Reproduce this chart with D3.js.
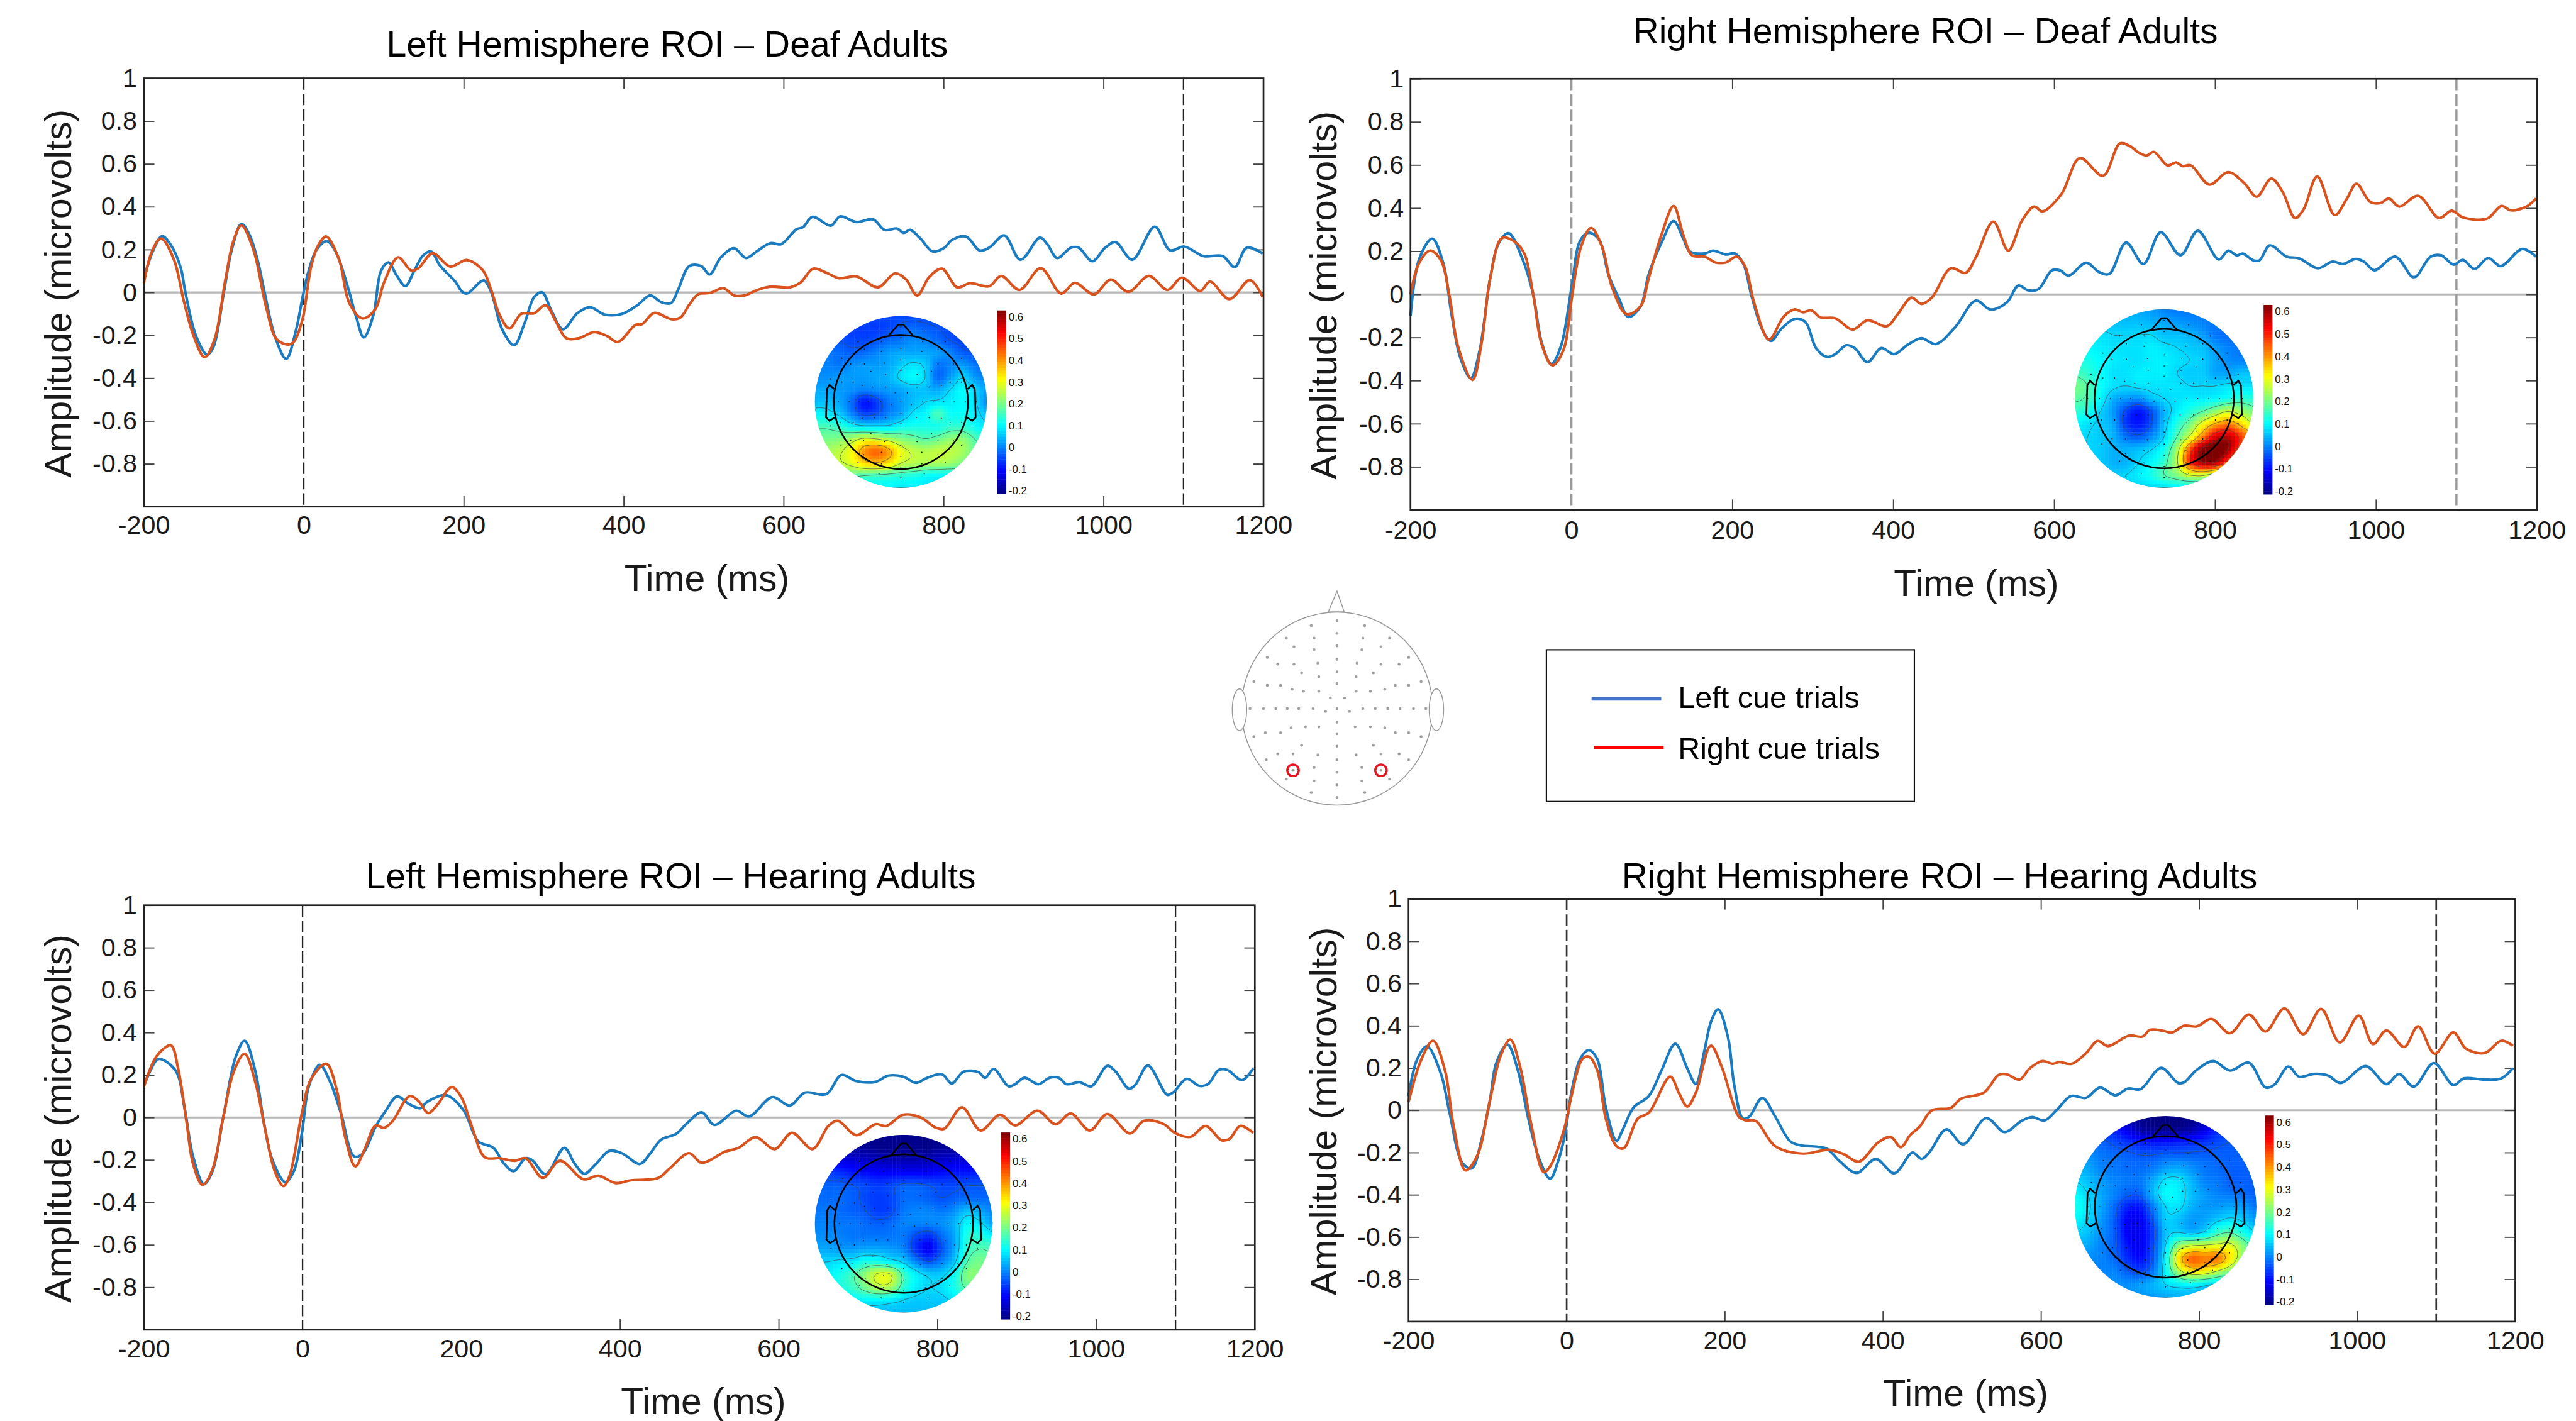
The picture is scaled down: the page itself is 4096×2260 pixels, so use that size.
<!DOCTYPE html>
<html>
<head>
<meta charset="utf-8">
<script src="https://cdn.jsdelivr.net/npm/d3@7"></script>
<style>
  html, body { margin: 0; padding: 0; background: #fff; }
  svg { display: block; }
  text { font-family: "Liberation Sans", Arial, sans-serif; }
</style>
</head>
<body>
<div id="chart"></div>
<script>
// waktu (ms), amplitudo (microvolts)
const deafLeftRoiLeftCue = [[-200,.06],[-189,.19],[-177,.263],[-166,.22],[-154,.117],[-148,0],[-135,-.2],[-121,-.29],[-113,-.255],[-100,0],[-90,.2],[-78,.32],[-68,.27],[-58,.155],[-49,0],[-36.5,-.2],[-22,-.31],[-10,-.18],[-1,-.013],[6,.1],[16,.2],[29,.24],[40,.19],[49,.1],[57,0],[66,-.12],[75,-.21],[87,-.106],[96.5,.1],[106,.14],[116,.08],[127,.03],[138,.1],[148.5,.17],[159,.192],[170,.127],[189,.052],[199,0],[205,-.004],[225,.056],[234,.005],[248,-.172],[263,-.246],[276,-.144],[288,-.022],[298,0],[310,-.088],[324,-.172],[342,-.097],[358,-.069],[376,-.103],[398,-.1],[417,-.06],[433,-.014],[447,-.045],[459,-.05],[468,.012],[482,.123],[497,.123],[507.5,.084],[522,.166],[538,.206],[553,.161],[567.5,.195],[583.5,.23],[597,.226],[616,.295],[624,.304],[636,.353],[659,.312],[670.5,.355],[691,.329],[712,.341],[726,.292],[742,.298],[750,.278],[758,.292],[771,.252],[786,.192],[801,.209],[810,.244],[828,.261],[845,.196],[857,.209],[876,.266],[896,.153],[920.5,.256],[929.5,.226],[942,.161],[959,.209],[969,.209],[986,.146],[1002,.209],[1015,.235],[1036,.153],[1064,.307],[1083,.197],[1101,.214],[1125,.17],[1149,.17],[1164,.118],[1179,.209],[1199,.182]];
const deafLeftRoiRightCue = [[-200,.043],[-190,.19],[-178.5,.252],[-162.5,.155],[-150,-.04],[-138,-.2],[-124,-.302],[-111.5,-.218],[-98,.06],[-88,.24],[-78,.313],[-63,.2],[-47,-.069],[-34,-.218],[-19,-.243],[-12,-.228],[-1.6,-.125],[9,.118],[18,.22],[28,.261],[44,.155],[57,-.05],[73.5,-.121],[89.5,-.078],[100,.043],[118,.164],[134,.103],[143,.112],[161,.183],[183,.121],[204,.151],[224,.103],[234,.015],[245,-.106],[257,-.168],[272,-.1],[288,-.097],[302.5,-.06],[315,-.134],[328,-.213],[344,-.213],[363,-.185],[379,-.203],[392.5,-.231],[415,-.151],[423,-.148],[438,-.096],[460,-.125],[471,-.117],[482,-.057],[493,-.009],[508.5,-.002],[524.5,.02],[538,-.014],[551,-.014],[567.5,.012],[583.5,.027],[608,.024],[621,.046],[637,.111],[653,.093],[669,.067],[691,.075],[718,.024],[739,.089],[752.5,.063],[767,-.014],[782,.072],[798,.111],[817,.024],[833,.043],[857,.029],[872,.077],[895,.012],[921.4,.113],[947,-.005],[964,.045],[988,-.009],[1009,.06],[1031,.003],[1056.6,.077],[1080,.012],[1098,.069],[1121,.007],[1133,.051],[1157.4,-.031],[1183,.058],[1199,-.022]];
const deafRightRoiLeftCue = [[-200,-.1],[-189,.166],[-173,.258],[-159.5,.148],[-149,-.092],[-138,-.295],[-125,-.388],[-114,-.259],[-101,.074],[-90,.24],[-78,.284],[-61,.166],[-47.5,0],[-37,-.222],[-25,-.323],[-13,-.24],[.4,.037],[11,.25],[22,.286],[35,.25],[46,.092],[59,-.018],[71,-.105],[86,-.055],[96,.092],[112,.24],[127,.34],[139,.259],[147,.2],[166,.19],[176,.203],[192,.185],[203,.19],[214,.139],[224,-.009],[237.6,-.166],[248,-.216],[261.6,-.157],[277.6,-.114],[291,-.129],[304,-.249],[317.6,-.29],[328,-.277],[341.6,-.236],[352,-.249],[368,-.314],[385,-.249],[401,-.277],[419,-.231],[435,-.203],[453,-.23],[477,-.152],[502.6,-.029],[521,-.07],[541.5,-.036],[555.5,.041],[567.5,.019],[580.4,.024],[597,.111],[607.4,.111],[618,.087],[640,.147],[655.6,.104],[668.6,.095],[689.4,.24],[711,.141],[732.4,.288],[757,.182],[778.6,.295],[804.5,.162],[816.4,.203],[827,.181],[834.6,.189],[847.6,.158],[855.3,.158],[868,.227],[889,.175],[904.6,.167],[928,.121],[946,.152],[959,.141],[974.6,.164],[985,.152],[998,.112],[1024,.175],[1044.7,.082],[1050,.083],[1068,.175],[1081,.181],[1096.5,.138],[1108,.16],[1122.5,.118],[1139.6,.169],[1155,.131],[1182,.211],[1199,.175]];
const deafRightRoiRightCue = [[-200,0],[-189,.148],[-175.5,.203],[-162,.157],[-151.5,-.009],[-141,-.24],[-123,-.397],[-111.5,-.222],[-101,.074],[-86,.262],[-69,.24],[-58,.185],[-47.5,0],[-37,-.231],[-23.6,-.329],[-10,-.259],[.4,-.018],[12,.222],[24.4,.308],[38,.222],[51,.028],[68.7,-.092],[86,-.055],[96,.074],[112,.277],[127,.41],[139,.277],[150,.181],[166,.175],[179,.148],[192,.148],[205.6,.175],[216,.129],[227,-.037],[245.6,-.209],[264,-.102],[277.6,-.07],[288,-.083],[298,-.074],[309.6,-.107],[328,-.111],[349.6,-.163],[368,-.12],[392,-.148],[405.5,-.092],[422.6,-.015],[435,-.044],[448,-.015],[471.5,.121],[490,.1],[502.6,.172],[524.4,.337],[543,.203],[560,.342],[575,.407],[585.6,.385],[609,.465],[632,.632],[660.8,.55],[681.6,.7],[694.5,.687],[705,.658],[715,.644],[724,.661],[741,.598],[751.6,.612],[759.4,.595],[770,.598],[793,.509],[816.4,.567],[837,.513],[851.7,.453],[870,.537],[884,.475],[899.4,.354],[910,.394],[927,.547],[948.7,.368],[964,.445],[975.7,.513],[993,.428],[1006,.424],[1016,.445],[1029,.407],[1052.5,.457],[1078.4,.354],[1094,.388],[1108.5,.356],[1138,.351],[1156,.41],[1167.6,.39],[1187,.407],[1199,.445]];
const hearingLeftRoiLeftCue = [[-200,.148],[-184,.27],[-178.4,.275],[-159.5,.218],[-148.6,.044],[-138,-.183],[-124.3,-.314],[-113.5,-.253],[-100,0],[-84,.288],[-73,.361],[-59.5,.218],[-48.6,-.026],[-38,-.2],[-21.6,-.305],[-11,-.253],[-1,-.078],[8,.148],[21.6,.248],[35,.166],[48.6,.017],[65,-.183],[75.7,-.171],[92,-.044],[105.4,.035],[119,.099],[135,.061],[148.6,.044],[156.8,.073],[181,.105],[202.7,.035],[221.6,-.113],[240.5,-.143],[254,-.218],[266,-.253],[281,-.192],[289,-.2],[306.5,-.267],[329.7,-.143],[343,-.218],[355,-.265],[370,-.218],[386.5,-.157],[402.7,-.169],[425,-.219],[438.3,-.168],[452,-.104],[470.8,-.077],[484,-.029],[503,.024],[519,-.035],[546.4,.032],[562.6,.005],[592,.096],[614,.056],[633,.117],[660,.11],[679,.2],[698,.171],[722,.168],[738,.197],[757,.192],[773.4,.163],[787,.187],[806,.203],[818,.16],[833,.216],[852,.213],[860,.187],[870.7,.229],[889.6,.147],[898,.157],[909.6,.187],[927.5,.157],[941,.187],[953,.187],[962.6,.157],[979,.166],[994,.147],[1014,.243],[1024.7,.216],[1041,.136],[1049,.152],[1065.3,.245],[1089.6,.107],[1097.7,.12],[1114,.182],[1130,.149],[1141,.157],[1154.5,.224],[1165.3,.224],[1184,.176],[1198,.232]];
const hearingLeftRoiRightCue = [[-200,.145],[-184,.288],[-166,.34],[-157,.235],[-146,-.026],[-138,-.218],[-126,-.317],[-113.5,-.244],[-100,0],[-86.5,.218],[-73,.3],[-59.5,.166],[-46,-.078],[-35,-.253],[-24,-.323],[-16,-.27],[-1,.017],[11,.183],[30,.253],[43,.131],[54,-.096],[66.5,-.23],[78.4,-.148],[92,-.038],[102.7,-.049],[113.5,-.017],[135,.101],[146,.078],[158.4,.021],[170,.061],[188,.143],[200,.096],[213.5,-.044],[229.7,-.187],[248.6,-.192],[267.6,-.204],[281,-.192],[302.7,-.284],[324.3,-.204],[354,-.291],[373,-.274],[394.6,-.309],[413.5,-.296],[448,-.285],[462.6,-.24],[487,-.168],[503,-.213],[533,-.16],[549,-.144],[570.8,-.093],[595,-.149],[616.7,-.072],[642.6,-.149],[662.6,-.04],[674.5,-.016],[697.8,-.083],[722,-.032],[735.6,-.04],[757,.013],[779,0],[798,-.048],[808.6,-.053],[831,.048],[854.5,-.061],[878.8,.013],[898,-.037],[926,.032],[949,-.032],[968,.019],[992,-.061],[1014,.016],[1042.6,-.075],[1060,-.016],[1084,-.029],[1100.5,-.075],[1119,-.091],[1138,-.04],[1158,-.107],[1168,-.101],[1181.5,-.04],[1198,-.072]];
const hearingRightRoiLeftCue = [[-200,.067],[-189,.242],[-176.7,.303],[-159,.172],[-148.5,-.004],[-132,-.249],[-120,-.275],[-108,-.144],[-97,.049],[-89,.224],[-75,.312],[-61.7,.189],[-48,-.047],[-34.6,-.231],[-21,-.324],[-10,-.231],[-2,-.109],[6,.084],[17,.242],[28,.285],[38.7,.242],[49.5,.014],[63,-.144],[71,-.091],[84.8,.014],[103.8,.067],[120,.189],[137.4,.315],[152.6,.198],[163.4,.124],[174,.277],[182.4,.417],[191.6,.478],[204,.347],[212,.119],[223,-.039],[231,-.03],[247.5,.058],[263.8,-.03],[282.8,-.147],[296,-.166],[329,-.182],[345,-.24],[367,-.296],[391,-.231],[414.6,-.298],[437.4,-.2],[449,-.23],[459,-.198],[480.5,-.09],[501.6,-.161],[530.6,-.037],[554,-.103],[575.5,-.05],[588.7,-.032],[604.5,-.048],[620.3,.003],[637.8,.067],[657,.059],[674.7,.108],[694,.071],[710,.103],[726,.1],[752,.201],[773.4,.129],[781,.132],[797,.191],[818,.233],[839,.188],[863,.225],[884,.108],[894.8,.119],[913,.207],[926.5,.159],[945,.172],[963.4,.164],[979,.129],[1011,.209],[1037,.124],[1053,.172],[1071.6,.112],[1097,.223],[1121.7,.119],[1135,.151],[1161.3,.145],[1182.4,.151],[1197,.199]];
const hearingRightRoiRightCue = [[-200,.04],[-183.7,.242],[-169,.329],[-154,.189],[-143,-.074],[-128,-.284],[-113,-.214],[-97,.049],[-83.4,.259],[-71.4,.335],[-59,.207],[-45.4,-.056],[-29,-.292],[-21,-.266],[-2,-.074],[6,.067],[19.7,.242],[28,.254],[38.7,.189],[49.5,-.039],[63,-.17],[72.3,-.179],[90,-.039],[103.8,-.012],[131,.159],[141.7,.084],[152.6,.018],[163.4,.084],[182.4,.306],[196,.207],[217.7,-.03],[225.8,-.047],[239.4,-.051],[263.8,-.17],[299,-.205],[331.6,-.187],[350.6,-.208],[369.6,-.243],[394,-.152],[410,-.126],[422.7,-.175],[434.6,-.117],[446.6,-.077],[462,0],[485.7,.011],[499,.055],[528,.084],[546.4,.167],[557,.17],[572.8,.145],[586,.199],[601.9,.233],[615,.22],[623,.228],[638.8,.22],[657.3,.271],[671.5,.328],[685,.304],[711,.353],[728.5,.349],[738,.381],[755,.376],[765.5,.368],[781,.4],[797,.397],[815.6,.432],[839,.365],[863,.453],[884,.373],[908,.482],[931.7,.36],[954.4,.48],[978,.321],[1002,.448],[1020,.313],[1037,.378],[1059.5,.3],[1077,.397],[1098,.268],[1121.7,.368],[1137.6,.292],[1161.3,.271],[1182.4,.329],[1197,.305]];

const xTickValues = [-200, 0, 200, 400, 600, 800, 1000, 1200];
const yTickValues = [-0.8, -0.6, -0.4, -0.2, 0, 0.2, 0.4, 0.6, 0.8, 1];
const cueEvents = [0, 1100];
const colorbarTicks = [-0.2, -0.1, 0, 0.1, 0.2, 0.3, 0.4, 0.5, 0.6];
const legendLabels = ["Left cue trials", "Right cue trials"];

// nilai topografi per kolom kepala, grid 15x15 (baris depan ke belakang)
const topoDeafLeft = [
[-.05,-.05,-.05,-.05,-.05,-.05,-.05,-.05,-.05,-.05,-.05,-.05,-.05,-.05,-.05],
[-.05,-.05,-.05,-.06,-.06,-.06,-.05,-.03,-.02,-.03,-.04,-.05,-.06,-.06,-.06],
[-.03,-.03,-.04,-.05,-.05,-.04,-.02,-.01,.01,0,-.02,-.04,-.05,-.05,-.05],
[-.01,-.01,-.02,-.03,-.02,0,.02,.03,.03,.03,.02,0,-.03,-.04,-.04],
[0,0,-.01,.01,.02,.02,.03,.06,.08,.06,-.01,0,.02,-.01,-.02],
[.01,.01,.02,.02,.02,.03,.04,.08,.1,.07,-.02,.02,.07,.02,0],
[.03,.03,.02,.01,0,.01,.02,.03,.05,.05,.03,.07,.1,.07,.02],
[.05,.05,.03,-.02,-.09,-.06,-.01,.02,.05,.07,.08,.09,.1,.08,.01],
[.1,.09,.06,0,-.05,-.04,0,.03,.08,.1,.16,.11,.11,.09,.05],
[.16,.16,.14,.1,.08,.08,.08,.11,.12,.12,.12,.14,.14,.11,.08],
[.2,.2,.21,.24,.28,.27,.24,.21,.19,.17,.19,.22,.22,.17,.14],
[.22,.24,.26,.31,.4,.44,.39,.3,.26,.25,.26,.26,.24,.19,.16],
[.24,.25,.26,.29,.34,.36,.33,.27,.25,.24,.24,.23,.2,.17,.14],
[.18,.18,.18,.18,.17,.16,.15,.14,.13,.11,.1,.1,.12,.12,.12],
[.12,.12,.12,.11,.1,.1,.1,.09,.09,.09,.09,.1,.1,.1,.1]];
const topoDeafRight = [
[.03,.03,.03,.03,.03,.03,.02,0,-.01,-.01,-.01,-.01,-.01,-.01,-.01],
[.05,.05,.05,.05,.05,.05,.04,.03,.02,.01,0,-.01,-.01,-.01,-.01],
[.08,.08,.08,.07,.07,.07,.07,.05,.05,.04,.02,-.01,-.02,-.02,-.02],
[.1,.1,.09,.08,.08,.08,.09,.08,.07,.06,.05,.02,0,-.01,-.01],
[.12,.12,.1,.09,.08,.08,.09,.09,.08,.07,.06,.03,.01,0,0],
[.16,.14,.11,.08,.08,.09,.09,.09,.07,.06,.06,.03,.03,.05,.05],
[.2,.17,.11,.08,.07,.08,.08,.08,.08,.07,.07,.07,.08,.08,.08],
[.18,.16,.1,.04,.02,.01,.05,.07,.08,.09,.09,.1,.12,.14,.13],
[.14,.12,.07,.02,-.05,-.09,-.04,.04,.09,.13,.17,.22,.27,.24,.2],
[.1,.08,.06,.03,-.06,-.09,-.04,.05,.13,.2,.3,.38,.42,.35,.27],
[.08,.07,.06,.04,-.01,-.03,.01,.07,.17,.28,.42,.55,.58,.48,.38],
[.08,.07,.06,.04,.04,.05,.07,.12,.24,.45,.62,.66,.6,.44,.3],
[.08,.07,.06,.04,.04,.07,.1,.15,.26,.48,.6,.6,.45,.27,.2],
[.08,.07,.07,.06,.07,.09,.12,.17,.21,.27,.28,.22,.14,.12,.1],
[.07,.07,.07,.07,.07,.07,.07,.08,.09,.09,.09,.09,.09,.09,.09]];
const topoHearingLeft = [
[-.2,-.2,-.2,-.2,-.2,-.2,-.2,-.2,-.2,-.2,-.2,-.2,-.2,-.2,-.2],
[-.19,-.19,-.19,-.19,-.19,-.2,-.2,-.2,-.2,-.2,-.19,-.19,-.19,-.19,-.19],
[-.12,-.12,-.13,-.14,-.15,-.16,-.17,-.17,-.17,-.16,-.15,-.14,-.14,-.13,-.12],
[-.05,-.06,-.07,-.09,-.1,-.11,-.11,-.11,-.11,-.11,-.1,-.09,-.09,-.08,-.07],
[-.02,-.03,-.03,-.04,-.05,-.06,-.05,-.03,-.03,-.04,-.05,-.05,-.04,-.04,-.04],
[-.02,-.02,-.02,-.03,-.05,-.06,-.05,-.02,-.02,-.03,-.04,-.03,-.02,-.02,-.02],
[-.01,-.01,-.02,-.03,-.04,-.06,-.05,-.01,0,0,-.01,.01,.05,.03,0],
[0,0,-.01,-.01,-.02,-.03,-.02,0,0,0,.01,.04,.1,.08,.03],
[.01,.01,0,-.01,-.01,-.01,-.01,-.01,-.05,-.07,-.02,.03,.13,.13,.1],
[.03,.03,.02,.02,.03,.03,.02,0,-.07,-.11,-.04,.03,.14,.17,.16],
[.07,.07,.08,.09,.12,.12,.09,.06,0,-.04,0,.06,.17,.2,.17],
[.08,.09,.12,.16,.22,.28,.27,.15,.09,.06,.06,.11,.21,.2,.15],
[.08,.1,.12,.15,.2,.25,.24,.14,.09,.07,.08,.12,.18,.15,.12],
[.06,.07,.08,.09,.1,.1,.09,.07,.06,.06,.06,.08,.09,.08,.07],
[.05,.05,.05,.05,.05,.05,.05,.05,.05,.05,.05,.05,.05,.05,.05]];
const topoHearingRight = [
[-.12,-.12,-.12,-.14,-.17,-.2,-.21,-.21,-.21,-.2,-.17,-.14,-.12,-.1,-.1],
[-.06,-.06,-.07,-.09,-.13,-.18,-.2,-.2,-.2,-.18,-.13,-.08,-.07,-.06,-.06],
[-.02,-.02,-.03,-.05,-.07,-.09,-.1,-.1,-.09,-.08,-.07,-.05,-.04,-.04,-.04],
[.02,.01,-.01,-.02,-.03,-.04,-.04,-.03,-.03,-.03,-.03,-.03,-.03,-.03,-.03],
[.04,.03,0,-.01,-.02,-.02,-.01,.02,.03,.01,-.01,-.02,-.03,-.03,-.03],
[.07,.05,.02,0,-.01,-.01,.03,.08,.08,.04,0,-.01,-.03,-.03,-.03],
[.1,.07,.03,0,-.03,-.03,.04,.1,.09,.05,.02,0,-.01,-.02,-.03],
[.12,.08,.03,-.02,-.08,-.09,-.01,.07,.08,.04,.02,.02,.03,.02,-.01],
[.1,.07,.02,-.03,-.11,-.12,-.04,.06,.05,.02,.03,.06,.08,.06,.02],
[.07,.05,.01,-.03,-.11,-.12,-.06,.05,.07,.05,.08,.15,.17,.12,.07],
[.04,.03,0,-.03,-.09,-.12,-.05,.07,.22,.27,.28,.29,.29,.21,.13],
[.01,.01,0,-.02,-.07,-.1,-.04,.1,.33,.44,.42,.42,.33,.21,.14],
[0,0,0,0,-.03,-.05,-.01,.1,.24,.32,.31,.26,.2,.13,.1],
[.01,.01,.01,.01,.01,.02,.04,.07,.09,.1,.08,.06,.05,.04,.04],
[.01,.01,.01,.01,.01,.01,.02,.03,.04,.04,.03,.03,.03,.03,.03]];

// posisi elektroda (koordinat kepala -1..1)
const electrodes = [[0,-.91],[-.27,-.86],[.29,-.86],[0,-.78],[-.53,-.73],[-.24,-.73],[.27,-.73],[.55,-.73],[-.45,-.64],[.46,-.64],[0,-.65],[-.24,-.61],[.26,-.61],[-.73,-.53],[.75,-.53],[0,-.51],[-.2,-.47],[.21,-.47],[-.62,-.46],[-.45,-.46],[.46,-.46],[.65,-.46],[0,-.38],[-.37,-.37],[.38,-.37],[-.19,-.33],[.2,-.33],[-.87,-.28],[.88,-.28],[0,-.26],[-.73,-.24],[-.59,-.24],[.61,-.24],[.75,-.24],[-.47,-.2],[.5,-.2],[-.35,-.18],[-.19,-.18],[.2,-.18],[.35,-.18],[-.07,-.11],[.08,-.11],[-.91,0],[-.77,0],[-.64,0],[-.52,0],[-.4,0],[-.25,0],[0,0],[.27,0],[.4,0],[.53,0],[.66,0],[.8,0],[.93,0],[-.12,.03],[.13,.03],[0,.14],[-.33,.19],[-.19,.19],[.19,.19],[.35,.19],[-.48,.2],[.5,.2],[-.75,.25],[-.59,.25],[.61,.25],[.75,.25],[0,.26],[-.87,.29],[.88,.29],[-.37,.38],[.38,.38],[0,.39],[-.62,.47],[-.46,.47],[.46,.47],[.65,.47],[-.2,.48],[.2,.48],[-.74,.53],[0,.53],[.75,.53],[-.24,.61],[.26,.61],[-.46,.64],[.46,.64],[0,.66],[-.53,.73],[.55,.73],[-.24,.75],[.26,.75],[0,.79],[-.27,.87],[.29,.87],[0,.92]];
const roiElectrodes = [[-.46,.64],[.46,.64]];

// layout tiap panel (koordinat gambar asli)
const panels = [
  { title: "Left Hemisphere ROI \u2013 Deaf Adults", tx: 804, tw: 1169, ty: 118,
    l: 299, r: 2630, t: 163, b: 1055, ylx: 147, xb: 1111, cx: 1471, cb: 1231,
    topTicks: [200, 400, 600, 800, 1000], botTicks: [200, 400, 600, 800, 1000],
    dash: "#222", dashW: 3, blue: deafLeftRoiLeftCue, red: deafLeftRoiRightCue,
    topo: topoDeafLeft, hx: 1875, hy: 837, hr: 179, cbx: 2076, cbt: 646, cbb: 1028, lt: 660, lb: 1022 },
  { title: "Right Hemisphere ROI \u2013 Deaf Adults", tx: 3399, tw: 1218, ty: 90,
    l: 2936, r: 5281, t: 164, b: 1062, ylx: 2782, xb: 1122, cx: 4114, cb: 1241,
    topTicks: [200, 400, 600, 800, 1000], botTicks: [200, 400, 600, 800, 1000],
    dash: "#999", dashW: 4.5, blue: deafRightRoiLeftCue, red: deafRightRoiRightCue,
    topo: topoDeafRight, hx: 4505, hy: 830, hr: 186, cbx: 4712, cbt: 633, cbb: 1030, lt: 649, lb: 1023 },
  { title: "Left Hemisphere ROI \u2013 Hearing Adults", tx: 761, tw: 1270, ty: 1850,
    l: 299, r: 2612, t: 1885, b: 2769, ylx: 147, xb: 2826, cx: 1464, cb: 2944,
    topTicks: [], botTicks: [400, 600, 800, 1000],
    dash: "#222", dashW: 3, blue: hearingLeftRoiLeftCue, red: hearingLeftRoiRightCue,
    topo: topoHearingLeft, hx: 1881, hy: 2548, hr: 185, cbx: 2084, cbt: 2358, cbb: 2746, lt: 2372, lb: 2741 },
  { title: "Right Hemisphere ROI \u2013 Hearing Adults", tx: 3376, tw: 1323, ty: 1850,
    l: 2932, r: 5236, t: 1872, b: 2752, ylx: 2782, xb: 2809, cx: 4092, cb: 2928,
    topTicks: [200, 400, 600, 800, 1000], botTicks: [200, 400, 600, 800, 1000],
    dash: "#333", dashW: 3.5, blue: hearingRightRoiLeftCue, red: hearingRightRoiRightCue,
    topo: topoHearingRight, hx: 4508, hy: 2513, hr: 189, cbx: 4715, cbt: 2322, cbb: 2716, lt: 2337, lb: 2711 }
];

const BLUE = "#1a7bc0", ORANGE = "#d9531e";

// colormap jet
const jet = d3.scaleLinear()
  .domain([-0.213, -0.108, 0.103, 0.314, 0.525, 0.63])
  .range(["#00007f", "#0000ff", "#00ffff", "#ffff00", "#ff0000", "#7f0000"])
  .clamp(true);

const svg = d3.select("#chart").append("svg")
  .attr("width", 4096)
  .attr("height", 2260)
  .attr("viewBox", "0 0 5362 2959");

svg.append("defs");

panels.forEach((p, i) => drawPanel(p, i));
drawMontage();
drawLegend();

function drawPanel(p, i) {
  const x = d3.scaleLinear().domain([-200, 1200]).range([p.l, p.r]);
  const y = d3.scaleLinear().domain([-1, 1]).range([p.b, p.t]);
  const g = svg.append("g");

  // judul
  g.append("text")
    .attr("x", p.tx).attr("y", p.ty)
    .attr("font-size", 75).attr("fill", "#000")
    .attr("textLength", p.tw).attr("lengthAdjust", "spacingAndGlyphs")
    .text(p.title);

  // garis nol
  g.append("line")
    .attr("x1", p.l).attr("x2", p.r)
    .attr("y1", y(0)).attr("y2", y(0))
    .attr("stroke", "#b8b8b8").attr("stroke-width", 4);

  // sumbu kiri dan bawah punya label
  const yAxis = g.append("g")
    .attr("transform", `translate(${p.l},0)`)
    .call(d3.axisLeft(y).tickValues(yTickValues).tickSize(-22).tickPadding(14)
      .tickFormat(d => String(d)));
  const xAxis = g.append("g")
    .attr("transform", `translate(0,${p.b})`)
    .call(d3.axisBottom(x).tickValues(xTickValues).tickSize(0)
      .tickPadding(p.xb - p.b - 38).tickFormat(d => String(d)));
  [yAxis, xAxis].forEach(a => {
    a.select(".domain").remove();
    a.selectAll("text").attr("font-size", 54).attr("font-family", "Liberation Sans").attr("fill", "#1a1a1a");
    a.selectAll("line").attr("stroke", "#444").attr("stroke-width", 2.5);
  });

  // tick tanpa label
  const rightAxis = g.append("g").attr("transform", `translate(${p.r},0)`)
    .call(d3.axisRight(y).tickValues(yTickValues.filter(v => v < 1)).tickSize(-22).tickFormat(""));
  const topAxis = g.append("g").attr("transform", `translate(0,${p.t})`)
    .call(d3.axisTop(x).tickValues(p.topTicks).tickSize(-22).tickFormat(""));
  const botAxis = g.append("g").attr("transform", `translate(0,${p.b})`)
    .call(d3.axisBottom(x).tickValues(p.botTicks).tickSize(-22).tickFormat(""));
  [rightAxis, topAxis, botAxis].forEach(a => {
    a.select(".domain").remove();
    a.selectAll("line").attr("stroke", "#444").attr("stroke-width", 2.5);
  });

  // garis putus cue
  g.selectAll(".event").data(cueEvents).enter().append("line")
    .attr("x1", d => x(d)).attr("x2", d => x(d))
    .attr("y1", p.t).attr("y2", p.b)
    .attr("stroke", p.dash).attr("stroke-width", p.dashW)
    .attr("stroke-dasharray", "24,8");

  // kurva ERP
  const line = d3.line()
    .x(d => x(d[0])).y(d => y(d[1]))
    .curve(d3.curveCatmullRom.alpha(0.5));
  g.append("path").datum(p.blue).attr("d", line)
    .attr("fill", "none").attr("stroke", BLUE).attr("stroke-width", 5.5);
  g.append("path").datum(p.red).attr("d", line)
    .attr("fill", "none").attr("stroke", ORANGE).attr("stroke-width", 5.5);

  // bingkai
  g.append("rect")
    .attr("x", p.l).attr("y", p.t)
    .attr("width", p.r - p.l).attr("height", p.b - p.t)
    .attr("fill", "none").attr("stroke", "#222").attr("stroke-width", 3.5);

  // label sumbu
  g.append("text")
    .attr("transform", `translate(${p.ylx},${(p.t + p.b) / 2 + 2}) rotate(-90)`)
    .attr("text-anchor", "middle").attr("font-size", 78).attr("fill", "#1a1a1a")
    .attr("textLength", 767).attr("lengthAdjust", "spacingAndGlyphs")
    .text("Amplitude (microvolts)");
  g.append("text")
    .attr("x", p.cx).attr("y", p.cb)
    .attr("text-anchor", "middle").attr("font-size", 77).attr("fill", "#1a1a1a")
    .text("Time (ms)");

  drawTopo(g, p, i);
}

// interpolasi catmull-rom hanya untuk menghaluskan tampilan peta
function cubic(a, b, c, d, t) {
  return b + 0.5 * t * (c - a + t * (2 * a - 5 * b + 4 * c - d + t * (3 * (b - c) + d - a)));
}
function sampleGrid(grid, n) {
  const m = grid.length;
  const at = (r, c) => grid[Math.max(0, Math.min(m - 1, r))][Math.max(0, Math.min(m - 1, c))];
  const out = new Array(n * n);
  for (let j = 0; j < n; j++) {
    const fy = (j + 0.5) / n * (m - 1), r = Math.floor(fy), ty = fy - r;
    for (let k = 0; k < n; k++) {
      const fx = (k + 0.5) / n * (m - 1), c = Math.floor(fx), tx = fx - c;
      const col = [-1, 0, 1, 2].map(dr =>
        cubic(at(r + dr, c - 1), at(r + dr, c), at(r + dr, c + 1), at(r + dr, c + 2), tx));
      out[j * n + k] = cubic(col[0], col[1], col[2], col[3], ty);
    }
  }
  return out;
}

function drawTopo(g, p, i) {
  const n = 48;
  const field = sampleGrid(p.topo, n);
  const hx = d3.scaleLinear().domain([-1, 1]).range([p.hx - p.hr, p.hx + p.hr]);
  const hy = d3.scaleLinear().domain([-1, 1]).range([p.hy - p.hr, p.hy + p.hr]);
  const cell = d3.scaleLinear().domain([0, n]).range([-1, 1]);
  const size = 2 * p.hr / n;

  svg.select("defs").append("clipPath").attr("id", "topo" + i)
    .append("circle").attr("cx", p.hx).attr("cy", p.hy).attr("r", p.hr);

  const t = g.append("g").attr("clip-path", `url(#topo${i})`);
  t.selectAll("rect").data(field).enter().append("rect")
    .attr("x", (d, k) => hx(cell(k % n)))
    .attr("y", (d, k) => hy(cell(Math.floor(k / n))))
    .attr("width", size + 0.6).attr("height", size + 0.6)
    .attr("fill", d => jet(d));

  // kontur
  const contours = d3.contours().size([n, n]).smooth(true)
    .thresholds([-0.04, 0.07, 0.17, 0.27, 0.37, 0.5, 0.6])(field);
  const path = d3.geoPath(d3.geoIdentity().scale(size).translate([p.hx - p.hr, p.hy - p.hr]));
  t.selectAll(".contour").data(contours).enter().append("path")
    .attr("d", path).attr("fill", "none")
    .attr("stroke", "#3c4a4a").attr("stroke-width", 1.3).attr("stroke-opacity", 0.7);

  // titik elektroda
  t.selectAll(".el").data(electrodes).enter().append("circle")
    .attr("cx", d => hx(d[0] * 0.94)).attr("cy", d => hy(d[1] * 0.96))
    .attr("r", 1.2).attr("fill", "#111");

  // kepala, hidung, telinga
  const ir = p.hr * 0.78;
  const outline = g.append("g").attr("fill", "none").attr("stroke", "#000").attr("stroke-width", 3.4);
  outline.append("circle").attr("cx", p.hx).attr("cy", p.hy).attr("r", ir);
  outline.append("path").attr("d", d3.line()([
    [p.hx - p.hr * 0.14, p.hy - ir * 0.99],
    [p.hx - p.hr * 0.03, p.hy - p.hr * 0.9],
    [p.hx + p.hr * 0.03, p.hy - p.hr * 0.9],
    [p.hx + p.hr * 0.14, p.hy - ir * 0.99]]));
  [-1, 1].forEach(s => {
    outline.append("path").attr("d", d3.line()([
      [p.hx + s * ir * 0.995, p.hy - p.hr * 0.15],
      [p.hx + s * p.hr * 0.83, p.hy - p.hr * 0.2],
      [p.hx + s * p.hr * 0.86, p.hy - p.hr * 0.15],
      [p.hx + s * p.hr * 0.87, p.hy + p.hr * 0.18],
      [p.hx + s * p.hr * 0.83, p.hy + p.hr * 0.22],
      [p.hx + s * ir * 0.985, p.hy + p.hr * 0.18]
    ]));
  });

  // colorbar
  const cb = d3.scaleLinear().domain([-0.2, 0.6]).range([p.lb, p.lt]);
  const steps = d3.range(64).map(k => -0.213 + k * (0.843 / 64));
  g.selectAll(".cb" + i).data(steps).enter().append("rect")
    .attr("x", p.cbx).attr("width", 18.5)
    .attr("y", d => cb(d + 0.843 / 64)).attr("height", d => cb(d) - cb(d + 0.843 / 64) + 0.6)
    .attr("fill", d => jet(d + 0.006));
  const cbAxis = g.append("g").attr("transform", `translate(${p.cbx + 18.5},0)`)
    .call(d3.axisRight(cb).tickValues(colorbarTicks).tickSize(0).tickPadding(5).tickFormat(d => String(d)));
  cbAxis.select(".domain").remove();
  cbAxis.selectAll("text").attr("font-size", 22).attr("font-family", "Liberation Sans").attr("fill", "#111");
}

function drawMontage() {
  const cx = 2783, cy = 1475.5, rx = 199, ry = 201;
  const mx = d3.scaleLinear().domain([-1, 1]).range([cx - rx, cx + rx]);
  const my = d3.scaleLinear().domain([-1, 1]).range([cy - ry, cy + ry]);
  const g = svg.append("g").attr("fill", "none").attr("stroke", "#999").attr("stroke-width", 2);
  g.append("ellipse").attr("cx", cx).attr("cy", cy).attr("rx", rx).attr("ry", ry);
  g.append("path").attr("d", d3.line()([[2765, 1274], [2783, 1231], [2798, 1274]]));
  g.append("line").attr("x1", 2765).attr("x2", 2798).attr("y1", 1274).attr("y2", 1274);
  g.append("ellipse").attr("cx", 2580).attr("cy", 1478).attr("rx", 15).attr("ry", 43.5).attr("fill", "#fff");
  g.append("ellipse").attr("cx", 2990).attr("cy", 1478).attr("rx", 15).attr("ry", 43.5).attr("fill", "#fff");
  g.selectAll(".el").data(electrodes).enter().append("circle")
    .attr("cx", d => mx(d[0])).attr("cy", d => my(d[1])).attr("r", 3)
    .attr("fill", "#a0a0a0").attr("stroke", "none");
  g.selectAll(".roi").data(roiElectrodes).enter().append("circle")
    .attr("cx", d => mx(d[0])).attr("cy", d => my(d[1])).attr("r", 12)
    .attr("stroke", "#e2141f").attr("stroke-width", 4.5);
}

function drawLegend() {
  const g = svg.append("g");
  g.append("rect").attr("x", 3219).attr("y", 1353).attr("width", 766).attr("height", 316)
    .attr("fill", "#fff").attr("stroke", "#111").attr("stroke-width", 2.8);
  const rows = [
    { label: legendLabels[0], color: "#4472c4", x1: 3313, x2: 3458, y: 1455, base: 1474, w: 378 },
    { label: legendLabels[1], color: "#ff0000", x1: 3318, x2: 3463, y: 1557, base: 1580, w: 420 }
  ];
  rows.forEach(r => {
    g.append("line").attr("x1", r.x1).attr("x2", r.x2).attr("y1", r.y).attr("y2", r.y)
      .attr("stroke", r.color).attr("stroke-width", 7.5);
    g.append("text").attr("x", 3493).attr("y", r.base)
      .attr("font-size", 63).attr("fill", "#000")
      .attr("textLength", r.w).attr("lengthAdjust", "spacingAndGlyphs")
      .text(r.label);
  });
}
</script>
</body>
</html>
